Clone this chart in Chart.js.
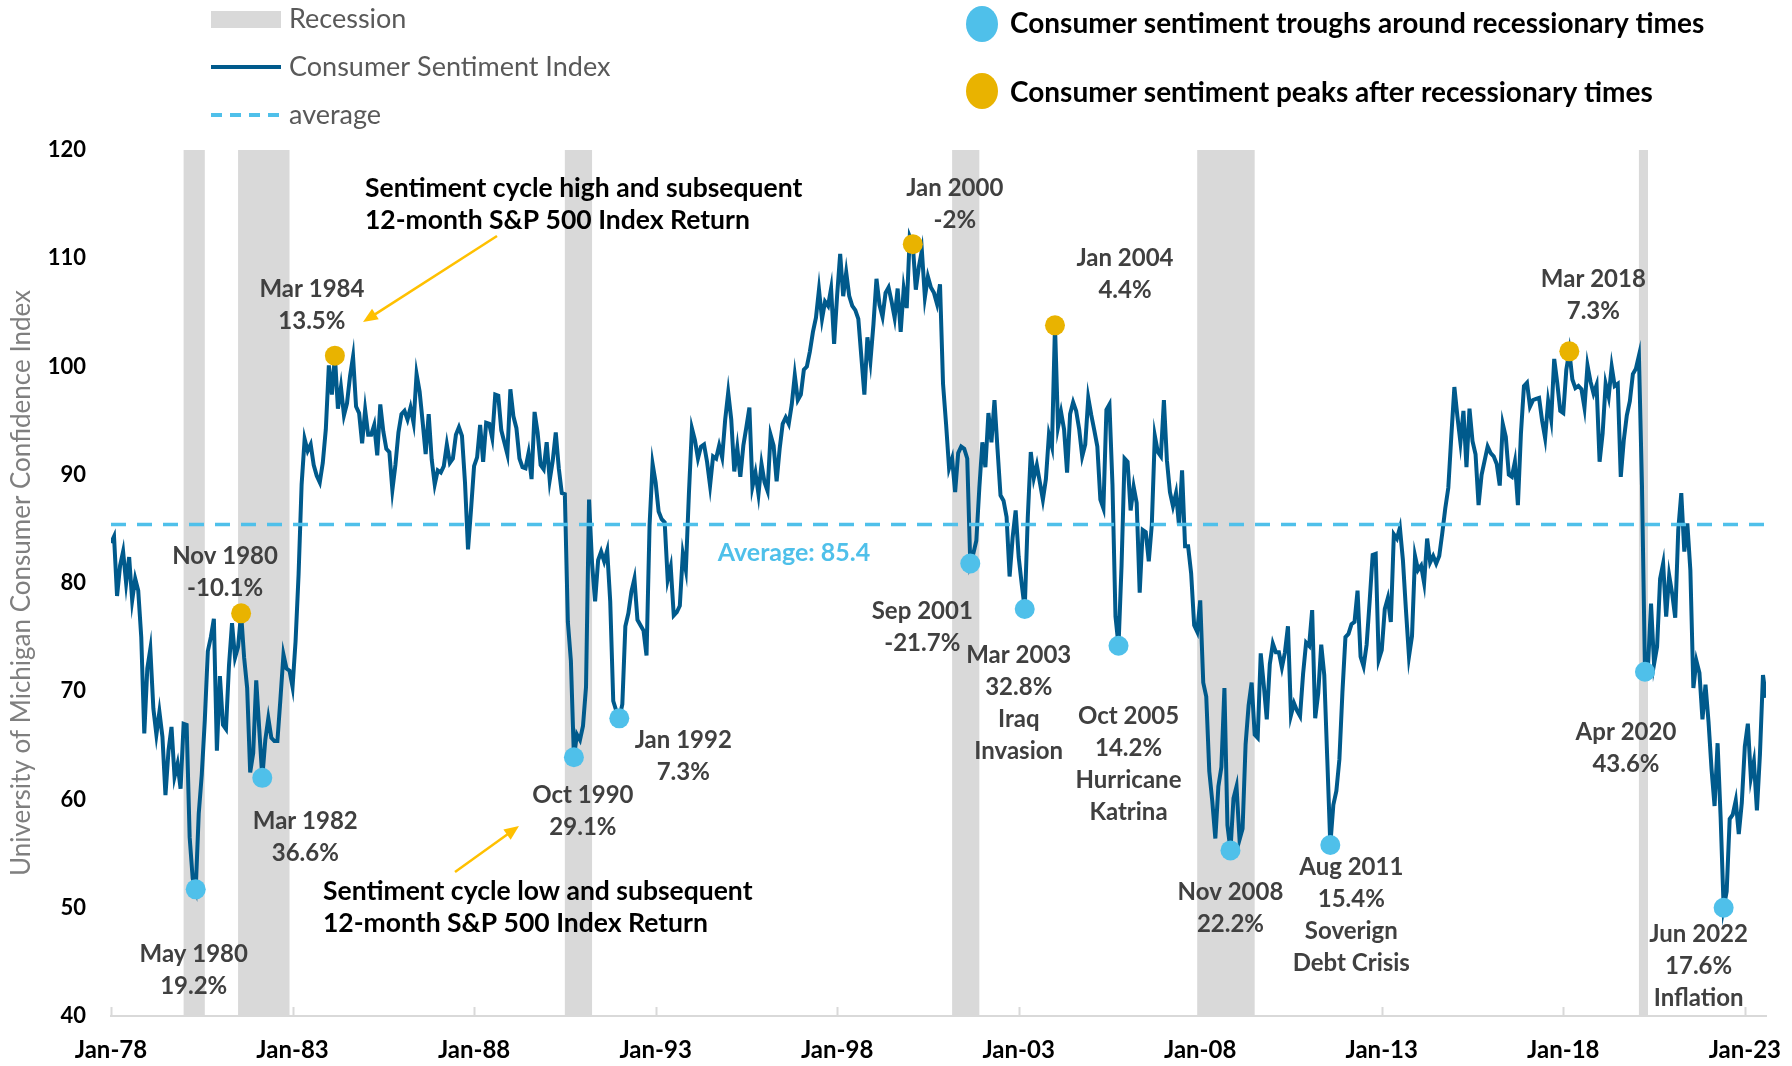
<!DOCTYPE html>
<html>
<head>
<meta charset="utf-8">
<script src="https://cdn.jsdelivr.net/npm/chart.js@4.4.0/dist/chart.umd.min.js"></script>
<style>
  html, body { margin: 0; background: #fff; }
  canvas { display: block; }
</style>
</head>
<body>
<canvas id="sentimentChart" width="1792" height="1066"></canvas>
<script>
// University of Michigan Consumer Sentiment, monthly from Jan 1978 to Aug 2023
const START_YEAR = 1978;
const sentiment = [
  83.7, 84.3, 78.8, 81.6, 82.9, 80.0, 82.4, 78.4, 80.4, 79.3, 75.0, 66.1, // 1978
  72.1, 73.9, 68.4, 66.0, 68.1, 65.8, 60.4, 64.5, 66.7, 62.1, 63.3, 61.0, // 1979
  67.0, 66.9, 56.5, 52.7, 51.7, 58.7, 62.3, 67.3, 73.7, 75.0, 76.7, 64.5, // 1980
  71.4, 66.9, 66.5, 72.4, 76.3, 73.1, 74.1, 77.2, 73.1, 70.3, 62.5, 64.3, // 1981
  71.0, 66.5, 62.0, 65.5, 67.5, 65.7, 65.4, 65.4, 69.3, 73.4, 72.1, 71.9, // 1982
  70.4, 74.6, 80.8, 89.1, 93.3, 92.2, 92.8, 90.9, 89.9, 89.3, 91.1, 94.2, // 1983
  100.1, 97.4, 101.0, 96.1, 98.1, 95.5, 96.6, 99.1, 100.9, 96.3, 95.7, 92.9, // 1984
  96.0, 93.7, 93.7, 94.6, 91.8, 96.5, 94.0, 92.4, 92.1, 88.6, 90.9, 93.9, // 1985
  95.6, 95.9, 95.1, 96.2, 94.8, 99.3, 97.7, 94.9, 91.9, 95.6, 91.4, 89.1, // 1986
  90.4, 90.2, 90.8, 92.8, 91.1, 91.5, 93.7, 94.4, 93.6, 89.3, 83.1, 86.8, // 1987
  90.8, 91.6, 94.6, 91.2, 94.8, 94.7, 93.4, 97.4, 97.3, 94.1, 93.0, 91.9, // 1988
  97.9, 95.4, 94.3, 91.5, 90.7, 90.6, 92.0, 89.6, 95.8, 93.9, 90.9, 90.5, // 1989
  93.0, 89.5, 91.3, 93.9, 90.6, 88.3, 88.2, 76.4, 72.8, 63.9, 66.0, 65.5, // 1990
  66.8, 70.4, 87.7, 81.8, 78.3, 82.1, 82.9, 82.0, 83.0, 78.3, 69.1, 68.2, // 1991
  67.5, 68.8, 76.0, 77.2, 79.2, 80.4, 76.6, 76.1, 75.6, 73.3, 85.3, 91.0, // 1992
  89.3, 86.6, 85.9, 85.6, 80.3, 81.5, 77.0, 77.3, 77.9, 82.7, 81.2, 88.2, // 1993
  94.3, 93.2, 91.5, 92.6, 92.8, 91.2, 89.0, 91.7, 91.5, 92.7, 91.6, 95.1, // 1994
  97.6, 95.1, 90.3, 92.5, 89.8, 92.7, 94.4, 96.2, 88.9, 90.2, 88.2, 91.0, // 1995
  89.3, 88.5, 93.7, 92.7, 89.4, 92.4, 94.7, 95.3, 94.7, 96.5, 99.2, 96.9, // 1996
  97.4, 99.7, 100.0, 101.4, 103.2, 104.5, 107.1, 104.4, 106.0, 105.6, 107.2, 102.1, // 1997
  106.6, 110.4, 106.5, 108.7, 106.5, 105.6, 105.2, 104.4, 100.9, 97.4, 102.7, 100.5, // 1998
  103.9, 108.1, 105.7, 104.6, 106.8, 107.3, 106.0, 104.5, 107.2, 103.2, 107.2, 105.4, // 1999
  112.0, 111.3, 107.1, 109.2, 110.7, 106.4, 108.3, 107.3, 106.8, 105.8, 107.6, 98.4, // 2000
  94.7, 90.6, 91.5, 88.4, 92.0, 92.6, 92.4, 91.5, 81.8, 82.7, 83.9, 88.8, // 2001
  93.0, 90.7, 95.7, 93.0, 96.9, 92.4, 88.1, 87.6, 86.1, 80.6, 84.2, 86.7, // 2002
  82.4, 79.9, 77.6, 86.0, 92.1, 89.7, 90.9, 89.3, 87.7, 89.6, 93.7, 92.6, // 2003
  103.8, 94.4, 95.8, 94.2, 90.2, 95.6, 96.7, 95.9, 94.2, 91.7, 92.8, 97.1, // 2004
  95.5, 94.1, 92.6, 87.7, 86.9, 96.0, 96.5, 89.1, 76.9, 74.2, 81.6, 91.5, // 2005
  91.2, 86.7, 88.9, 87.4, 79.1, 84.9, 84.7, 82.0, 85.4, 93.6, 92.1, 91.7, // 2006
  96.9, 91.3, 88.4, 87.1, 88.3, 85.3, 90.4, 83.4, 83.4, 80.9, 76.1, 75.5, // 2007
  78.4, 70.8, 69.5, 62.6, 59.8, 56.4, 61.2, 63.0, 70.3, 57.6, 55.3, 60.1, // 2008
  61.2, 56.3, 57.3, 65.1, 68.7, 70.8, 66.0, 65.7, 73.5, 70.6, 67.4, 72.5, // 2009
  74.4, 73.6, 73.6, 72.2, 73.6, 76.0, 67.8, 68.9, 68.2, 67.7, 71.6, 74.5, // 2010
  74.2, 77.5, 67.5, 69.8, 74.3, 71.5, 63.7, 55.8, 59.5, 60.8, 63.7, 69.9, // 2011
  75.0, 75.3, 76.2, 76.4, 79.3, 73.2, 72.3, 74.3, 78.3, 82.6, 82.7, 72.9, // 2012
  73.8, 77.6, 78.6, 76.4, 84.5, 84.1, 85.1, 82.1, 77.5, 73.2, 75.1, 82.5, // 2013
  81.2, 81.6, 80.0, 84.1, 81.9, 82.5, 81.8, 82.5, 84.6, 86.9, 88.8, 93.6, // 2014
  98.1, 95.4, 93.0, 95.9, 90.7, 96.1, 93.1, 91.9, 87.2, 90.0, 91.3, 92.6, // 2015
  92.0, 91.7, 91.0, 89.0, 94.7, 93.5, 90.0, 89.8, 91.2, 87.2, 93.8, 98.2, // 2016
  98.5, 96.3, 96.9, 97.0, 97.1, 95.0, 93.4, 96.8, 95.1, 100.7, 98.5, 95.9, // 2017
  95.7, 99.7, 101.4, 98.8, 98.0, 98.2, 97.9, 96.2, 100.1, 98.6, 97.5, 98.3, // 2018
  91.2, 93.8, 98.4, 97.2, 100.0, 98.2, 98.4, 89.8, 93.2, 95.5, 96.8, 99.3, // 2019
  99.8, 101.0, 89.1, 71.8, 72.3, 78.1, 72.5, 74.1, 80.4, 81.8, 76.9, 80.7, // 2020
  79.0, 76.8, 84.9, 88.3, 82.9, 85.5, 81.2, 70.3, 72.8, 71.7, 67.4, 70.6, // 2021
  67.2, 62.8, 59.4, 65.2, 58.4, 50.0, 51.5, 58.2, 58.6, 59.9, 56.8, 59.7, // 2022
  64.9, 67.0, 62.0, 63.5, 59.0, 64.2, 71.5, 69.4                          // 2023
];
const averageValue = 85.4;

const tickLabels = ['Jan-78', 'Jan-83', 'Jan-88', 'Jan-93', 'Jan-98', 'Jan-03', 'Jan-08', 'Jan-13', 'Jan-18', 'Jan-23'];

// NBER recessions, first and last month
const recessionStarts = ['Jan 1980', 'Jul 1981', 'Jul 1990', 'Mar 2001', 'Dec 2007', 'Feb 2020'];
const recessionEnds   = ['Jul 1980', 'Nov 1982', 'Mar 1991', 'Nov 2001', 'Jun 2009', 'Apr 2020'];

// troughs (blue dots) and peaks (gold dots)
const troughDates   = ['May 1980', 'Mar 1982', 'Oct 1990', 'Jan 1992', 'Sep 2001', 'Mar 2003', 'Oct 2005', 'Nov 2008', 'Aug 2011', 'Apr 2020', 'Jun 2022'];
const troughReturns = ['19.2%', '36.6%', '29.1%', '7.3%', '-21.7%', '32.8%', '14.2%', '22.2%', '15.4%', '43.6%', '17.6%'];
const troughNotes   = [[], [], [], [], [], ['Iraq', 'Invasion'], ['Hurricane', 'Katrina'], [], ['Soverign', 'Debt Crisis'], [], ['Inflation']];

// where the gold dots sit on the line, and the text printed beside them
const peakDates   = ['Aug 1981', 'Mar 1984', 'Feb 2000', 'Jan 2004', 'Mar 2018'];
const peakLabels  = ['Nov 1980', 'Mar 1984', 'Jan 2000', 'Jan 2004', 'Mar 2018'];
const peakReturns = ['-10.1%', '13.5%', '-2%', '4.4%', '7.3%'];

// label placement relative to each dot (px)
const troughOffsets = [[-2, 65], [43, 43], [9, 38], [64, 22], [-48, 48], [-6, 46], [10, 70], [0, 42], [21, 22], [-19, 61], [-25, 27]];
const peakOffsets = [[-16, -57], [-23, -66], [42, -56], [70, -67], [24, -72]];

const MONTHS = ['Jan', 'Feb', 'Mar', 'Apr', 'May', 'Jun', 'Jul', 'Aug', 'Sep', 'Oct', 'Nov', 'Dec'];
const FONT = 'Lato, "Open Sans", sans-serif';
const LINE_BLUE = '#005A8C';
const LIGHT_BLUE = '#4FC0EA';
const GOLD = '#E9B300';
const ARROW_GOLD = '#FFC000';
const LABEL_GREY = '#404040';

function monthIndex(str) {
    const [mon, yr] = str.split(' ');
    return (parseInt(yr, 10) - START_YEAR) * 12 + MONTHS.indexOf(mon);
}

const linePoints = sentiment.map((v, i) => ({ x: i, y: v }));
const troughPoints = troughDates.map(d => ({ x: monthIndex(d), y: sentiment[monthIndex(d)] }));
const peakPoints = peakDates.map(d => ({ x: monthIndex(d), y: sentiment[monthIndex(d)] }));
const lastIndex = sentiment.length - 1;

function drawArrow(ctx, x1, y1, x2, y2) {
    const ang = Math.atan2(y2 - y1, x2 - x1);
    const head = 16;
    ctx.save();
    ctx.strokeStyle = ARROW_GOLD;
    ctx.fillStyle = ARROW_GOLD;
    ctx.lineWidth = 2.5;
    ctx.beginPath();
    ctx.moveTo(x1, y1);
    ctx.lineTo(x2 - Math.cos(ang) * head * 0.8, y2 - Math.sin(ang) * head * 0.8);
    ctx.stroke();
    ctx.beginPath();
    ctx.moveTo(x2, y2);
    ctx.lineTo(x2 - head * Math.cos(ang - 0.4), y2 - head * Math.sin(ang - 0.4));
    ctx.lineTo(x2 - head * Math.cos(ang + 0.4), y2 - head * Math.sin(ang + 0.4));
    ctx.closePath();
    ctx.fill();
    ctx.restore();
}

function drawLines(ctx, lines, x, y, lineHeight) {
    lines.forEach((t, i) => ctx.fillText(t, x, y + i * lineHeight));
}

const overlayPlugin = {
    id: 'overlay',
    beforeDatasetsDraw(chart) {
        const { ctx, chartArea, scales } = chart;
        const xs = scales.x;
        ctx.save();
        // recession bands
        ctx.fillStyle = '#D9D9D9';
        recessionStarts.forEach((s, i) => {
            const x1 = xs.getPixelForValue(monthIndex(s));
            const x2 = xs.getPixelForValue(monthIndex(recessionEnds[i]) + 1);
            ctx.fillRect(x1, chartArea.top, x2 - x1, chartArea.bottom - chartArea.top);
        });
        // small tick marks pointing up from the axis
        ctx.strokeStyle = '#D9D9D9';
        ctx.lineWidth = 2;
        tickLabels.forEach((_, i) => {
            const x = Math.round(xs.getPixelForValue(i * 60)) + 0.5;
            ctx.beginPath();
            ctx.moveTo(x, chartArea.bottom);
            ctx.lineTo(x, chartArea.bottom - 9);
            ctx.stroke();
        });
        ctx.restore();
    },
    afterDatasetsDraw(chart) {
        const { ctx, scales } = chart;
        const xs = scales.x, ys = scales.y;
        ctx.save();
        ctx.textAlign = 'center';
        ctx.textBaseline = 'middle';

        // trough and peak labels
        ctx.fillStyle = LABEL_GREY;
        ctx.font = `bold 24px ${FONT}`;
        troughPoints.forEach((p, i) => {
            const px = xs.getPixelForValue(p.x) + troughOffsets[i][0];
            const py = ys.getPixelForValue(p.y) + troughOffsets[i][1];
            drawLines(ctx, [troughDates[i], troughReturns[i], ...troughNotes[i]], px, py, 32);
        });
        peakPoints.forEach((p, i) => {
            const px = xs.getPixelForValue(p.x) + peakOffsets[i][0];
            const py = ys.getPixelForValue(p.y) + peakOffsets[i][1];
            drawLines(ctx, [peakLabels[i], peakReturns[i]], px, py, 32);
        });

        // average label
        ctx.fillStyle = LIGHT_BLUE;
        ctx.font = `bold 25px ${FONT}`;
        ctx.fillText('Average: ' + averageValue, 794, ys.getPixelForValue(averageValue) + 28);

        // call-out texts and arrows
        ctx.fillStyle = '#000';
        ctx.textAlign = 'left';
        ctx.font = `bold 26.5px ${FONT}`;
        drawLines(ctx, ['Sentiment cycle high and subsequent', '12-month S&P 500 Index Return'], 365, 188, 32);
        drawLines(ctx, ['Sentiment cycle low and subsequent', '12-month S&P 500 Index Return'], 323, 891, 32);
        drawArrow(ctx, 497, 236, 363, 322);
        drawArrow(ctx, 455, 872, 519, 826);

        // legend, left column
        ctx.fillStyle = '#D9D9D9';
        ctx.fillRect(211, 11, 70, 17);
        ctx.strokeStyle = LINE_BLUE;
        ctx.lineWidth = 4;
        ctx.beginPath(); ctx.moveTo(211, 67); ctx.lineTo(281, 67); ctx.stroke();
        ctx.strokeStyle = LIGHT_BLUE;
        ctx.setLineDash([11, 8]);
        ctx.beginPath(); ctx.moveTo(211, 115); ctx.lineTo(281, 115); ctx.stroke();
        ctx.setLineDash([]);
        ctx.fillStyle = '#595959';
        ctx.font = `27px ${FONT}`;
        ctx.fillText('Recession', 289, 19);
        ctx.fillText('Consumer Sentiment Index', 289, 67);
        ctx.fillText('average', 289, 115);

        // legend, right column
        ctx.fillStyle = LIGHT_BLUE;
        ctx.beginPath(); ctx.ellipse(982, 24, 16, 18, 0, 0, Math.PI * 2); ctx.fill();
        ctx.fillStyle = GOLD;
        ctx.beginPath(); ctx.ellipse(982, 91, 16, 18, 0, 0, Math.PI * 2); ctx.fill();
        ctx.fillStyle = '#000';
        ctx.font = `bold 28px ${FONT}`;
        ctx.fillText('Consumer sentiment troughs around recessionary times', 1010, 24);
        ctx.fillText('Consumer sentiment peaks after recessionary times', 1010, 93);
        ctx.restore();
    }
};

const ctx = document.getElementById('sentimentChart').getContext('2d');
new Chart(ctx, {
    type: 'line',
    data: {
        datasets: [
            {
                type: 'scatter',
                data: troughPoints,
                backgroundColor: LIGHT_BLUE,
                borderWidth: 0,
                pointRadius: 10
            },
            {
                type: 'scatter',
                data: peakPoints,
                backgroundColor: GOLD,
                borderWidth: 0,
                pointRadius: 10
            },
            {
                data: [{ x: 0, y: averageValue }, { x: lastIndex, y: averageValue }],
                borderColor: LIGHT_BLUE,
                borderWidth: 3.5,
                borderDash: [15, 11],
                pointRadius: 0
            },
            {
                data: linePoints,
                borderColor: LINE_BLUE,
                borderWidth: 4,
                pointRadius: 0,
                tension: 0
            }
        ]
    },
    options: {
        responsive: false,
        devicePixelRatio: 1,
        animation: false,
        layout: { padding: { top: 150, right: 26, left: 0, bottom: 0 } },
        plugins: {
            legend: { display: false },
            tooltip: { enabled: false }
        },
        scales: {
            x: {
                type: 'linear',
                min: 0,
                max: lastIndex,
                afterBuildTicks: scale => {
                    scale.ticks = tickLabels.map((_, i) => ({ value: i * 60 }));
                },
                afterFit: scale => {
                    scale.height = 50;
                    // the last label may hang into the right margin
                    scale.paddingLeft = 0;
                    scale.paddingRight = 0;
                },
                ticks: {
                    autoSkip: false,
                    maxRotation: 0,
                    padding: 20,
                    color: '#000',
                    font: { family: FONT, size: 24, weight: 'bold' },
                    callback: value => tickLabels[value / 60]
                },
                grid: { display: false, drawTicks: false },
                border: { display: true, color: '#D9D9D9', width: 2 }
            },
            y: {
                min: 40,
                max: 120,
                afterFit: scale => { scale.width = 111; },
                ticks: {
                    stepSize: 10,
                    padding: 25,
                    color: '#000',
                    font: { family: FONT, size: 22, weight: 'bold' }
                },
                grid: { display: false, drawTicks: false },
                border: { display: false },
                title: {
                    display: true,
                    text: 'University of Michigan Consumer Confidence Index',
                    color: '#7F7F7F',
                    padding: { top: 6, bottom: 0 },
                    font: { family: FONT, size: 26 }
                }
            }
        }
    },
    plugins: [overlayPlugin]
});
</script>
</body>
</html>
